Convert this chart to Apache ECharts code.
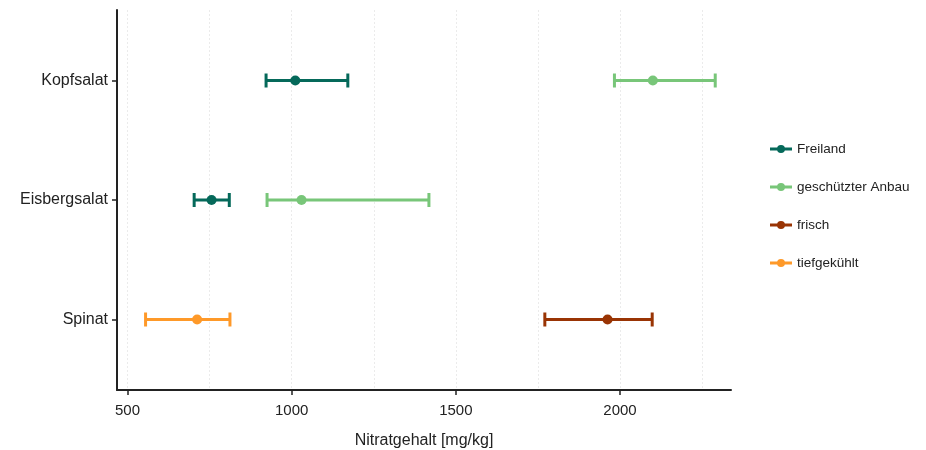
<!DOCTYPE html>
<html>
<head>
<meta charset="utf-8">
<script src="https://cdn.jsdelivr.net/npm/echarts@6/dist/echarts.min.js"></script>
<style>
    html, body { margin: 0; padding: 0; background: #fff; }
    #chart { width: 926px; height: 450px; }
</style>
</head>
<body>
<div id="chart"></div>
<script>
// Kategorien von unten nach oben (y = 1, 2, 3)
const categories = ['Spinat', 'Eisbergsalat', 'Kopfsalat'];

// Freiland
const freilandCats = ['Kopfsalat', 'Eisbergsalat'];
const freilandLow = [922, 703];
const freilandMean = [1011, 756];
const freilandHigh = [1171, 810];

// geschützter Anbau
const geschuetztCats = ['Kopfsalat', 'Eisbergsalat'];
const geschuetztLow = [1983, 925];
const geschuetztMean = [2100, 1030];
const geschuetztHigh = [2290, 1418];

// frisch
const frischCats = ['Spinat'];
const frischLow = [1771];
const frischMean = [1962];
const frischHigh = [2098];

// tiefgekühlt
const tiefCats = ['Spinat'];
const tiefLow = [555];
const tiefMean = [712];
const tiefHigh = [812];

const xLabelTicks = [500, 1000, 1500, 2000];
const xGridTicks = [500, 750, 1000, 1250, 1500, 1750, 2000, 2250];

const legendIcon = 'path://M0,2.5H7.2V5.5H0Z M14.8,2.5H22V5.5H14.8Z M7,4A4,4 0 1,1 15,4A4,4 0 1,1 7,4Z';

function rows(cats, low, mean, high) {
    return cats.map((c, i) => [categories.indexOf(c) + 1, low[i], mean[i], high[i]]);
}

function renderItem(params, api) {
    const y = api.value(0);
    const pl = api.coord([api.value(1), y]);
    const pm = api.coord([api.value(2), y]);
    const ph = api.coord([api.value(3), y]);
    const color = api.visual('color');
    const cap = 7;
    const lw = 3;
    return {
        type: 'group',
        children: [
            { type: 'line', shape: { x1: pl[0], y1: pl[1], x2: ph[0], y2: ph[1] }, style: { stroke: color, lineWidth: lw } },
            { type: 'line', shape: { x1: pl[0], y1: pl[1] - cap, x2: pl[0], y2: pl[1] + cap }, style: { stroke: color, lineWidth: lw } },
            { type: 'line', shape: { x1: ph[0], y1: ph[1] - cap, x2: ph[0], y2: ph[1] + cap }, style: { stroke: color, lineWidth: lw } },
            { type: 'circle', shape: { cx: pm[0], cy: pm[1], r: 5 }, style: { fill: color } }
        ]
    };
}

function errSeries(name, color, data) {
    return {
        name: name,
        type: 'custom',
        xAxisIndex: 0,
        yAxisIndex: 0,
        renderItem: renderItem,
        itemStyle: { color: color },
        encode: { x: [1, 2, 3], y: 0 },
        data: data
    };
}

const chart = echarts.init(document.getElementById('chart'));
const font = 'Liberation Sans, Arial, sans-serif';

chart.setOption({
    animation: false,
    textStyle: { fontFamily: font },
    grid: { left: 117, right: 195, top: 10, bottom: 60, outerBoundsMode: 'none', containLabel: false },
    legend: {
        orient: 'vertical',
        left: 765,
        top: 137,
        itemWidth: 22,
        itemHeight: 8,
        itemGap: 24,
        icon: legendIcon,
        textStyle: { fontSize: 13.5, color: '#222', fontFamily: font },
        data: ['Freiland', 'geschützter Anbau', 'frisch', 'tiefgekühlt']
    },
    xAxis: [
        {
            type: 'value',
            min: 468,
            max: 2338,
            name: 'Nitratgehalt [mg/kg]',
            nameLocation: 'middle',
            nameGap: 43,
            nameTextStyle: { fontSize: 16, color: '#222' },
            axisLine: { show: true, lineStyle: { color: '#222', width: 2 } },
            axisTick: { show: true, length: 5, lineStyle: { color: '#222', width: 1.5 }, customValues: xLabelTicks },
            axisLabel: { fontSize: 15, color: '#222', margin: 13, customValues: xLabelTicks, formatter: v => String(v) },
            splitLine: { show: false }
        },
        {
            type: 'value',
            position: 'bottom',
            min: 468,
            max: 2338,
            axisLine: { show: false },
            axisTick: { show: false, customValues: xGridTicks },
            axisLabel: { show: false, customValues: xGridTicks },
            splitLine: { show: true, lineStyle: { color: '#ebebeb', width: 1, type: [2, 2] } }
        }
    ],
    yAxis: {
        type: 'value',
        min: 0.41,
        max: 3.59,
        axisLine: { show: true, lineStyle: { color: '#222', width: 2 } },
        axisTick: { show: true, length: 5, lineStyle: { color: '#222', width: 1.5 }, customValues: [1, 2, 3] },
        axisLabel: {
            fontSize: 16,
            color: '#222',
            margin: 9,
            customValues: [1, 2, 3],
            formatter: v => categories[Math.round(v) - 1]
        },
        splitLine: { show: false }
    },
    series: [
        errSeries('Freiland', '#05695a', rows(freilandCats, freilandLow, freilandMean, freilandHigh)),
        errSeries('geschützter Anbau', '#78c679', rows(geschuetztCats, geschuetztLow, geschuetztMean, geschuetztHigh)),
        errSeries('frisch', '#993404', rows(frischCats, frischLow, frischMean, frischHigh)),
        errSeries('tiefgekühlt', '#fe9929', rows(tiefCats, tiefLow, tiefMean, tiefHigh))
    ]
});
</script>
</body>
</html>
